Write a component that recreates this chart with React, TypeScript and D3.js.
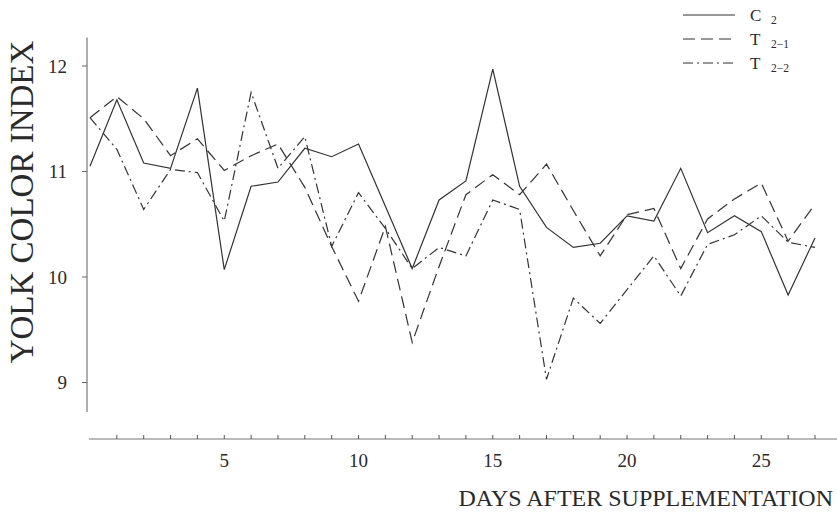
import React, { useRef, useEffect } from "react";
import * as d3 from "d3";

// days after supplementation
const days = d3.range(0, 28);

// yolk color index per day
const c2 = [
  11.05, 11.68, 11.08, 11.03, 11.79, 10.07, 10.86, 10.9, 11.22, 11.14, 11.26,
  10.67, 10.08, 10.73, 10.91, 11.97, 10.86, 10.47, 10.28, 10.32, 10.58, 10.53,
  11.03, 10.42, 10.58, 10.43, 9.83, 10.37,
];
const t21 = [
  11.51, 11.71, 11.5, 11.15, 11.31, 11.01, 11.15, 11.26, 10.85, 10.29, 9.77,
  10.48, 9.38, 10.1, 10.78, 10.97, 10.78, 11.07, 10.63, 10.2, 10.59, 10.65,
  10.08, 10.55, 10.74, 10.89, 10.34, 10.69,
];
const t22 = [
  11.51, 11.21, 10.64, 11.02, 10.99, 10.53, 11.75, 11.03, 11.33, 10.29, 10.8,
  10.46, 10.08, 10.28, 10.2, 10.73, 10.64, 9.03, 9.8, 9.56, 9.88, 10.2, 9.82,
  10.31, 10.4, 10.58, 10.33, 10.28,
];

const yTicks = [9, 10, 11, 12];
const xTicks = d3.range(1, 28);
const xLabels = [5, 10, 15, 20, 25];

const series = [
  { name: "C", sub: "2", values: c2, dash: null },
  { name: "T", sub: "2\u22121", values: t21, dash: "12,6" },
  { name: "T", sub: "2\u22122", values: t22, dash: "10,4,2,4" },
];

export default function App() {
  const ref = useRef(null);

  useEffect(() => {
    const width = 837;
    const height = 517;
    const font = "'Liberation Serif', 'Times New Roman', serif";
    const ink = "#2a2a2a";

    const x = d3.scaleLinear().domain([0, 27]).range([90, 815]);
    const y = d3.scaleLinear().domain([9, 12]).range([382.5, 66]);

    const svg = d3
      .select(ref.current)
      .html("")
      .append("svg")
      .attr("width", width)
      .attr("height", height)
      .style("display", "block")
      .style("background", "#fff")
      .style("font-family", font);

    // y axis (detached from x axis, as in the figure)
    const axisX = 87;
    svg
      .append("line")
      .attr("x1", axisX)
      .attr("x2", axisX)
      .attr("y1", y(12.27))
      .attr("y2", y(8.72))
      .attr("stroke", "#777")
      .attr("stroke-width", 1.2);

    const yt = svg.append("g");
    yt.selectAll("line")
      .data(yTicks)
      .enter()
      .append("line")
      .attr("x1", axisX - 5)
      .attr("x2", axisX)
      .attr("y1", (d) => y(d))
      .attr("y2", (d) => y(d))
      .attr("stroke", "#666");
    yt.selectAll("text")
      .data(yTicks)
      .enter()
      .append("text")
      .attr("x", 67)
      .attr("y", (d) => y(d))
      .attr("dy", "0.36em")
      .attr("text-anchor", "end")
      .attr("font-size", 19)
      .attr("fill", ink)
      .text((d) => d);

    // x axis
    const axisY = 439;
    svg
      .append("line")
      .attr("x1", x(-0.04))
      .attr("x2", width)
      .attr("y1", axisY)
      .attr("y2", axisY)
      .attr("stroke", "#777")
      .attr("stroke-width", 1.2);

    svg
      .append("g")
      .selectAll("line")
      .data(xTicks)
      .enter()
      .append("line")
      .attr("x1", (d) => x(d))
      .attr("x2", (d) => x(d))
      .attr("y1", axisY)
      .attr("y2", axisY - 4)
      .attr("stroke", "#555");

    svg
      .append("g")
      .selectAll("text")
      .data(xLabels)
      .enter()
      .append("text")
      .attr("x", (d) => x(d))
      .attr("y", 467)
      .attr("text-anchor", "middle")
      .attr("font-size", 19)
      .attr("fill", ink)
      .text((d) => d);

    // axis titles
    svg
      .append("text")
      .attr("transform", "translate(33,202) rotate(-90)")
      .attr("text-anchor", "middle")
      .attr("font-size", 33)
      .attr("fill", ink)
      .text("YOLK COLOR INDEX");

    svg
      .append("text")
      .attr("x", 833)
      .attr("y", 506)
      .attr("text-anchor", "end")
      .attr("font-size", 24)
      .attr("fill", ink)
      .text("DAYS AFTER SUPPLEMENTATION");

    // lines
    const line = d3
      .line<number>()
      .x((d, i) => x(days[i]))
      .y((d) => y(d));

    series.forEach((s) => {
      svg
        .append("path")
        .datum(s.values)
        .attr("d", line)
        .attr("fill", "none")
        .attr("stroke", "#333")
        .attr("stroke-width", 1.2)
        .attr("stroke-dasharray", s.dash);
    });

    // legend
    const lg = svg.append("g");
    series.forEach((s, i) => {
      const ly = 15 + i * 24;
      lg.append("line")
        .attr("x1", 683)
        .attr("x2", 735)
        .attr("y1", ly)
        .attr("y2", ly)
        .attr("stroke", "#333")
        .attr("stroke-width", 1.2)
        .attr("stroke-dasharray", s.dash);
      lg.append("text")
        .attr("x", 750)
        .attr("y", ly + 6)
        .attr("font-size", 17)
        .attr("fill", ink)
        .text(s.name);
      lg.append("text")
        .attr("x", 771)
        .attr("y", ly + 9)
        .attr("font-size", 11.5)
        .attr("fill", ink)
        .text(s.sub);
    });
  }, []);

  return (
    <div
      ref={ref}
      style={{ position: "absolute", left: 0, top: 0, width: 837, height: 517 }}
    ></div>
  );
}
